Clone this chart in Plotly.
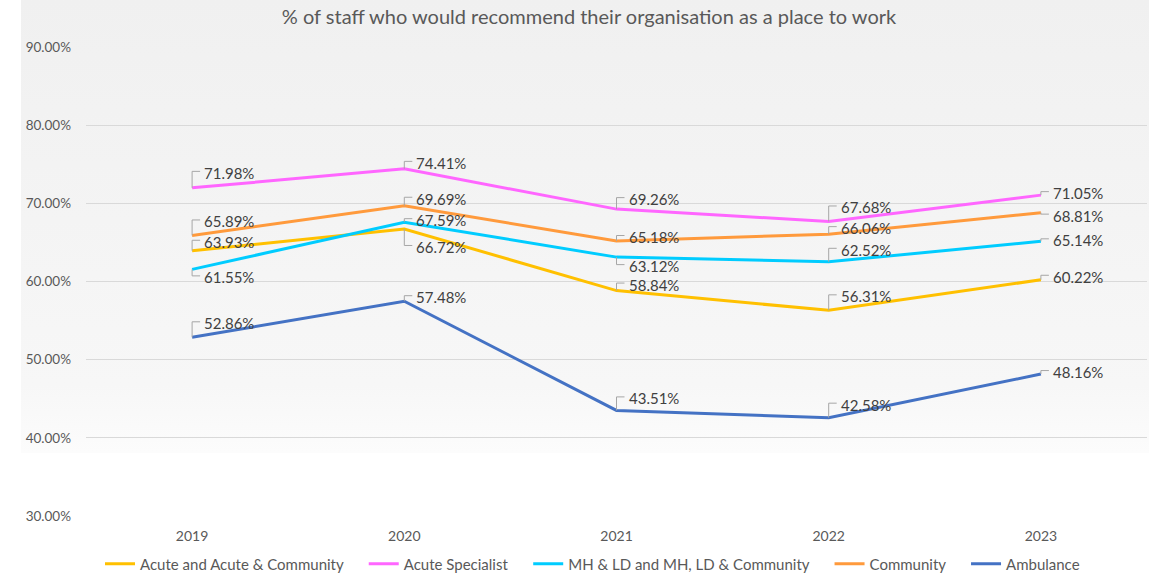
import base64
import plotly.graph_objects as go

# Survey years (x categories)
years = ["2019", "2020", "2021", "2022", "2023"]

# % of staff who would recommend their organisation as a place to work
acute = [63.93, 66.72, 58.84, 56.31, 60.22]
acute_specialist = [71.98, 74.41, 69.26, 67.68, 71.05]
mh_ld = [61.55, 67.59, 63.12, 62.52, 65.14]
community = [65.89, 69.69, 65.18, 66.06, 68.81]
ambulance = [52.86, 57.48, 43.51, 42.58, 48.16]

series_names = [
    "Acute and Acute & Community",
    "Acute Specialist",
    "MH & LD and MH, LD & Community",
    "Community",
    "Ambulance",
]
series_values = [acute, acute_specialist, mh_ld, community, ambulance]
series_colors = ["#FFC000", "#FF66FF", "#00CCFF", "#FF9A3C", "#4472C4"]

# Vertical placement of each data label, in pixels above its point
label_lift = [
    [9, -18, 6, 14, 3],
    [15, 6, 10, 14, 2],
    [-8, 2, -9, 12, 1],
    [14, 7, 4, 6, -3],
    [14, 4, 12, 13, 2],
]

FONT = "Lato"
TEXT_GREY = "#595959"
LEGEND_PAD = "\u00a0" * 4  # extra breathing room between legend entries

fig = go.Figure()

for name, vals, color in zip(series_names, series_values, series_colors):
    fig.add_trace(go.Scatter(
        x=years, y=vals, name=name + LEGEND_PAD, mode="lines",
        line=dict(color=color, width=3),
        hoverinfo="skip",
    ))

annotations = []
shapes = []
for vals, lifts in zip(series_values, label_lift):
    for i, (v, up) in enumerate(zip(vals, lifts)):
        annotations.append(dict(
            x=i, y=v, xref="x", yref="y",
            text=f"{v:.2f}%", showarrow=False,
            xanchor="left", yanchor="middle",
            xshift=10, yshift=up,
            font=dict(family=FONT, size=15, color="#404040"),
        ))
        hook = up + 1.5
        shapes.append(dict(
            type="path", xref="x", yref="y",
            xsizemode="pixel", ysizemode="pixel",
            xanchor=i, yanchor=v,
            path=f"M0,0 L0,{hook} L8,{hook}",
            line=dict(color="#A6A6A6", width=1),
            layer="above",
        ))

# Soft grey-to-white backdrop behind the chart
svg = (
    "<svg xmlns='http://www.w3.org/2000/svg' width='100' height='100' "
    "viewBox='0 0 100 100' preserveAspectRatio='none'>"
    "<defs><linearGradient id='g' x1='0' y1='0' x2='0' y2='1'>"
    "<stop offset='0' stop-color='#F0F0F0'/>"
    "<stop offset='0.85' stop-color='#F7F7F7'/>"
    "<stop offset='1' stop-color='#FCFCFC'/>"
    "</linearGradient></defs>"
    "<rect width='100' height='100' fill='url(#g)'/></svg>"
)
svg_uri = "data:image/svg+xml;base64," + base64.b64encode(svg.encode()).decode()

W, H = 1149, 575
ML, MR, MT, MB = 86, 2, 47, 59
pw, ph = W - ML - MR, H - MT - MB
BACKDROP_LEFT, BACKDROP_BOTTOM = 21, 453

fig.add_layout_image(dict(
    source=svg_uri, xref="paper", yref="paper",
    x=(BACKDROP_LEFT - ML) / pw, y=(H - MB) / ph,
    sizex=(W - BACKDROP_LEFT) / pw, sizey=BACKDROP_BOTTOM / ph,
    xanchor="left", yanchor="top", sizing="stretch", layer="below",
))

fig.update_layout(
    width=W, height=H,
    margin=dict(l=ML, r=MR, t=MT, b=MB, autoexpand=False),
    paper_bgcolor="white",
    plot_bgcolor="rgba(0,0,0,0)",
    title=dict(
        text="% of staff who would recommend their organisation as a place to work",
        x=589 / W, xref="container", y=1 - 17 / H, yref="container",
        xanchor="center", yanchor="middle",
        font=dict(family=FONT, size=20, color=TEXT_GREY),
    ),
    font=dict(family=FONT, color=TEXT_GREY),
    xaxis=dict(
        type="category", range=[-0.5, 4.5],
        showgrid=False, showline=False, zeroline=False,
        tickfont=dict(family=FONT, size=14, color=TEXT_GREY),
        ticks="", ticklabelstandoff=10,
    ),
    yaxis=dict(
        range=[30, 90], dtick=10, tick0=30,
        tickformat=".2f", ticksuffix="%",
        showgrid=True, gridcolor="#D9D9D9", gridwidth=1,
        zeroline=False, showline=False,
        tickfont=dict(family=FONT, size=13.5, color=TEXT_GREY),
        ticks="", ticklabelstandoff=14,
    ),
    legend=dict(
        orientation="h", x=(600 - ML) / pw, xanchor="center",
        yref="container", y=1 - 564 / H, yanchor="middle",
        font=dict(family=FONT, size=15, color=TEXT_GREY),
        bgcolor="rgba(0,0,0,0)",
    ),
    annotations=annotations,
    shapes=shapes,
    showlegend=True,
)

fig.write_html("out.html")
